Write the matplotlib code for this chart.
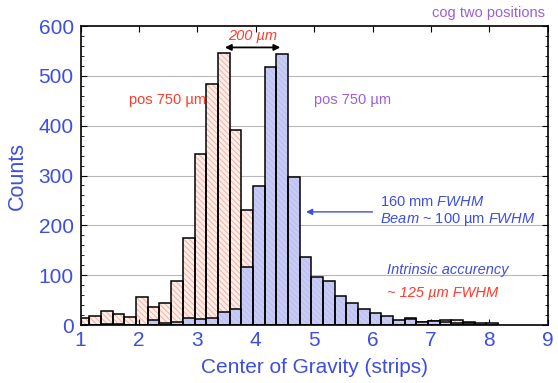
import matplotlib
matplotlib.use("Agg")
import matplotlib.pyplot as plt

plt.rcParams['font.family'] = ['Liberation Sans', 'DejaVu Sans']
plt.rcParams['mathtext.fontset'] = 'custom'
plt.rcParams['mathtext.rm'] = 'Liberation Sans'
plt.rcParams['mathtext.it'] = 'Liberation Sans:italic'
plt.rcParams['hatch.linewidth'] = 0.7

# bin centres (strips), bin width 0.2
bin_centers = [1.05, 1.25, 1.45, 1.65, 1.85, 2.05, 2.25, 2.45, 2.65, 2.85,
               3.05, 3.25, 3.45, 3.65, 3.85, 4.05, 4.25, 4.45, 4.65, 4.85,
               5.05, 5.25, 5.45, 5.65, 5.85, 6.05, 6.25, 6.45, 6.65, 6.85,
               7.05, 7.25, 7.45, 7.65, 7.85, 8.05]
bin_width = 0.2

# first position (red, hatched)
counts_pos1 = [15, 18, 28, 23, 17, 56, 36, 44, 88, 174,
               343, 483, 546, 391, 231, 22, 14, 10, 8, 6,
               6, 5, 5, 4, 4, 4, 5, 6, 14, 6,
               8, 10, 10, 6, 3, 2]
# second position (blue)
counts_pos2 = [0, 0, 3, 2, 0, 1, 10, 5, 6, 15,
               12, 15, 27, 33, 117, 279, 517, 544, 298, 136,
               96, 88, 58, 45, 32, 25, 18, 10, 12, 7,
               8, 6, 5, 4, 5, 5]

x_ticks = [1, 2, 3, 4, 5, 6, 7, 8, 9]
y_ticks = [0, 100, 200, 300, 400, 500, 600]

blue = '#3d4ee0'
red = '#ff3b2f'
purple = '#9b5fd9'

fig = plt.figure(figsize=(5.58, 3.83), dpi=100)
ax = fig.add_axes([0.1446, 0.1514, 0.8369, 0.7807])

for y in y_ticks[1:-1]:
    ax.axhline(y, color='#b8b8b8', lw=0.8, zorder=0)

# fill + hatch, then outline on top
ax.bar(bin_centers, counts_pos1, width=bin_width, color='#fdeee9',
       edgecolor='#f3b0a4', hatch='\\\\\\\\\\\\', linewidth=0, zorder=1)
ax.bar(bin_centers, counts_pos1, width=bin_width, fill=False,
       edgecolor='black', linewidth=1.1, zorder=2)
ax.bar(bin_centers, counts_pos2, width=bin_width, color='#c8cbf4',
       edgecolor='#b9bdf0', hatch='\\\\\\\\\\\\', linewidth=0, zorder=3)
ax.bar(bin_centers, counts_pos2, width=bin_width, fill=False,
       edgecolor='black', linewidth=1.1, zorder=4)

ax.set_xlim(1, 9)
ax.set_ylim(0, 600)
ax.set_xticks(x_ticks)
ax.set_yticks(y_ticks)
ax.set_yticks(range(0, 601, 20), minor=True)
ax.tick_params(axis='both', which='both', direction='in', top=True, right=True,
               labelcolor=blue, labelsize=15, color='black')
ax.tick_params(axis='both', which='major', length=4)
ax.tick_params(axis='both', which='minor', length=2)
ax.tick_params(axis='x', pad=4)
ax.tick_params(axis='y', pad=5)
for sp in ax.spines.values():
    sp.set_linewidth(1.2)
    sp.set_zorder(5)

ax.set_xlabel('Center of Gravity (strips)', color=blue, fontsize=15, labelpad=6)
ax.set_ylabel('Counts', color=blue, fontsize=15.5, labelpad=8)

fig.text(0.977, 0.965, 'cog two positions', color=purple, fontsize=10.5,
         ha='right', va='center')

# peak separation
ax.annotate('', xy=(3.47, 557), xytext=(4.42, 557),
            arrowprops=dict(arrowstyle='<|-|>', color='black', lw=1.3,
                            mutation_scale=9, shrinkA=0, shrinkB=0))
ax.text(3.95, 579, '200 µm', color=red, fontsize=10.5, style='italic',
        ha='center', va='center')

ax.text(2.48, 452, 'pos 750 µm', color=red, fontsize=10.5, ha='center', va='center')
ax.text(5.66, 452, 'pos 750 µm', color=purple, fontsize=10.5, ha='center', va='center')

ax.text(6.12, 246, r'160 mm $\mathit{FWHM}$', color=blue, fontsize=10.5,
        ha='left', va='center')
ax.text(6.12, 212, r'$\mathit{Beam}$ ~ 100 µm $\mathit{FWHM}$', color=blue,
        fontsize=10.5, ha='left', va='center')
ax.annotate('', xy=(4.86, 227), xytext=(6.0, 227),
            arrowprops=dict(arrowstyle='-|>', color=blue, lw=1.0,
                            mutation_scale=9, shrinkA=0, shrinkB=0))

ax.text(6.25, 110, 'Intrinsic accurency', color=blue, fontsize=10.5,
        style='italic', ha='left', va='center')
ax.text(6.25, 64, '~ 125 µm FWHM', color=red, fontsize=10.5,
        style='italic', ha='left', va='center')

fig.savefig('out.png', dpi=100)
